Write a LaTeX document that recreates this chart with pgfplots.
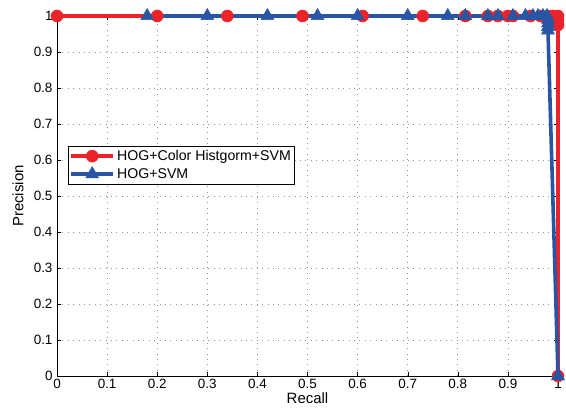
\documentclass[border=0pt]{standalone}
\usepackage{pgfplots}
\pgfplotsset{compat=1.18}
\usepackage{fontspec}
\setmainfont{Liberation Sans}
\definecolor{myred}{RGB}{235,35,42}
\definecolor{myblue}{RGB}{40,85,165}
\begin{document}
\begin{tikzpicture}[x=1bp,y=1bp]
\begin{axis}[
  scale only axis,
  width=501bp, height=360bp,
  xmin=0, xmax=1, ymin=0, ymax=1,
  xtick={0,0.1,...,1.01}, ytick={0,0.1,...,1.01},
  xticklabels={0,0.1,0.2,0.3,0.4,0.5,0.6,0.7,0.8,0.9,1},
  yticklabels={0,0.1,0.2,0.3,0.4,0.5,0.6,0.7,0.8,0.9,1},
  tick align=inside,
  major tick length=4.5bp,
  tick style={black, thin},
  grid=major,
  major grid style={gray!85, line width=0.7bp, dash pattern=on 0.8bp off 4.6bp},
  axis line style={black, line width=0.8pt},
  ticklabel style={font=\fontsize{13.5}{15}\selectfont},
  xticklabel style={yshift=0bp},
  yticklabel style={xshift=-1bp},
  every axis x label/.style={at={(rel axis cs:0.5,0)}, anchor=center, yshift=-22bp, font=\fontsize{15}{17}\selectfont},
  every axis y label/.style={at={(rel axis cs:0,0.5)}, xshift=-39bp, anchor=center, rotate=90, font=\fontsize{15}{17}\selectfont},
  xlabel={Recall}, ylabel={Precision},
  clip=false,
  legend style={at={(rel axis cs:0.022,0.639)}, anchor=north west,
    font=\fontsize{14.2}{16}\selectfont, draw=black, line width=0.6pt,
    inner xsep=1bp, inner ysep=2bp, row sep=2.5bp},
  legend cell align=left,
  legend image code/.code={%
    \draw[mark repeat=2,mark phase=2] plot coordinates {(0bp,0bp) (21bp,0bp) (42bp,0bp)};},
]
\addplot[myred, line width=3.8bp, mark=*, mark size=6bp, mark options={solid, fill=myred, line width=0.5pt}]
coordinates {
(0,1) (0.2,1) (0.34,1) (0.49,1) (0.61,1) (0.73,1) (0.815,1) (0.86,1) (0.88,1) (0.9,1) (0.91,1) (0.945,1) (0.965,1) (0.98,1) (0.99,1) (1,1) (1,0.99) (1,0.98) (1,0.975) (1,0)
};
\addlegendentry{HOG+Color Histgorm+SVM}
\addplot[myblue, line width=3.6bp, mark=triangle*, mark size=7.5bp, mark options={solid, fill=myblue, line width=0.5pt}]
coordinates {
(0.18,1) (0.30,1) (0.42,1) (0.52,1) (0.60,1) (0.70,1) (0.78,1) (0.815,1) (0.86,1) (0.88,1) (0.91,1) (0.935,1) (0.95,1) (0.96,1) (0.97,1) (0.978,1) (0.98,0.99) (0.98,0.98) (0.98,0.97) (0.98,0.96) (1,0)
};
\addlegendentry{HOG+SVM}
\coordinate (sw) at (rel axis cs:0,0);
\coordinate (ne) at (rel axis cs:1,1);
\end{axis}
\pgfresetboundingbox
\path[use as bounding box] ([shift={(-57bp,-37bp)}]sw) rectangle ([shift={(8bp,16bp)}]ne);
\end{tikzpicture}
\end{document}
